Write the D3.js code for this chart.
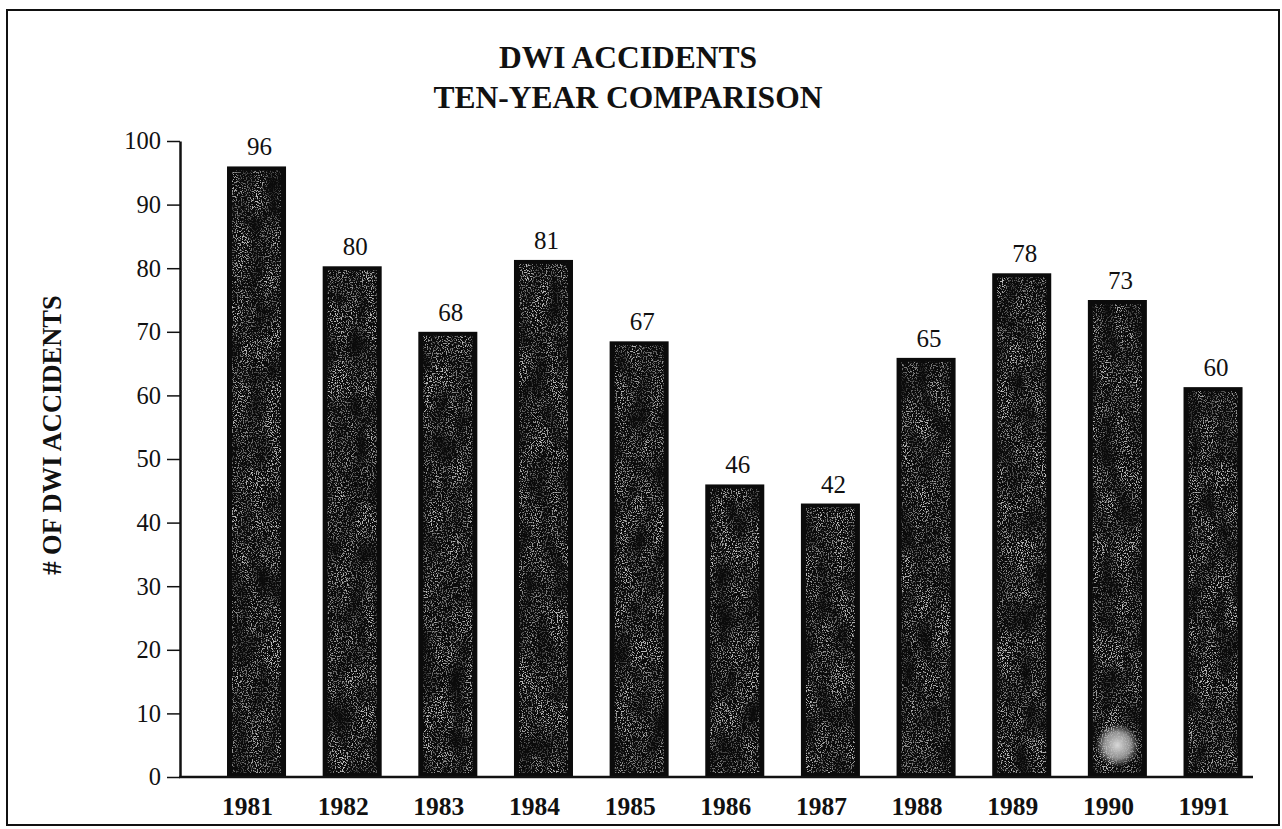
<!DOCTYPE html>
<html>
<head>
<meta charset="utf-8">
<script src="https://cdn.jsdelivr.net/npm/d3@7/dist/d3.min.js"></script>
<style>
  html, body { margin: 0; padding: 0; background: #fff; }
  svg { display: block; }
</style>
</head>
<body>
<svg id="chart" width="1282" height="829"></svg>
<script>
// ---- data ----
const years = ["1981", "1982", "1983", "1984", "1985", "1986", "1987", "1988", "1989", "1990", "1991"];
const valueLabels = [96, 80, 68, 81, 67, 46, 42, 65, 78, 73, 60];
const barValues = [96, 80.3, 70, 81.3, 68.5, 46, 43, 65.9, 79.2, 75, 61.3];
const yTicks = [0, 10, 20, 30, 40, 50, 60, 70, 80, 90, 100];
const titleLines = ["DWI ACCIDENTS", "TEN-YEAR COMPARISON"];
const yAxisTitle = "# OF DWI ACCIDENTS";

const serif = "'Liberation Serif', 'Times New Roman', Times, serif";
const svg = d3.select("#chart");

// texture filter for bars
const defs = svg.append("defs");
const f = defs.append("filter").attr("id", "grain")
  .attr("x", 0).attr("y", 0).attr("width", "100%").attr("height", "100%")
  .attr("color-interpolation-filters", "sRGB");
f.append("feTurbulence").attr("type", "fractalNoise").attr("baseFrequency", 0.8)
  .attr("numOctaves", 2).attr("seed", 3).attr("result", "fine");
f.append("feColorMatrix").attr("in", "fine").attr("type", "matrix")
  .attr("values", "0 0 0 0 0.72  0 0 0 0 0.72  0 0 0 0 0.72  9 0 0 0 -4.7")
  .attr("result", "dots");
f.append("feTurbulence").attr("type", "fractalNoise").attr("baseFrequency", "0.06 0.03")
  .attr("numOctaves", 2).attr("seed", 9).attr("result", "coarse");
f.append("feColorMatrix").attr("in", "coarse").attr("type", "matrix")
  .attr("values", "0 0 0 0 0  0 0 0 0 0  0 0 0 0 0  1.8 0 0 0 -0.25")
  .attr("result", "mask");
f.append("feComposite").attr("in", "dots").attr("in2", "mask").attr("operator", "in").attr("result", "cd");
f.append("feComposite").attr("in", "cd").attr("in2", "SourceGraphic").attr("operator", "in");

const blob = defs.append("radialGradient").attr("id", "blob");
blob.append("stop").attr("offset", "0%").attr("stop-color", "#d8d8d8").attr("stop-opacity", 1);
blob.append("stop").attr("offset", "60%").attr("stop-color", "#b0b0b0").attr("stop-opacity", 0.8);
blob.append("stop").attr("offset", "100%").attr("stop-color", "#888").attr("stop-opacity", 0);

// border
svg.append("rect").attr("x", 7).attr("y", 10).attr("width", 1272).attr("height", 815)
  .attr("fill", "none").attr("stroke", "#111").attr("stroke-width", 2);

// scales
const axisLeftX = 180, axisRightX = 1253;
const y = d3.scaleLinear().domain([0, 100]).range([777, 141]);
const x = d3.scaleBand().domain(years).range([208.7, 1260.85])
  .paddingInner(0.383).paddingOuter(0.1915);

// title
svg.append("g").selectAll("text").data(titleLines).join("text")
  .attr("x", 628).attr("y", (d, i) => 68 + i * 40)
  .attr("text-anchor", "middle")
  .attr("font-family", serif).attr("font-weight", "bold").attr("font-size", 31.5)
  .attr("fill", "#111").text(d => d);

// y axis title
svg.append("text")
  .attr("transform", "translate(61,435) rotate(-90)")
  .attr("text-anchor", "middle")
  .attr("font-family", serif).attr("font-weight", "bold").attr("font-size", 26.5)
  .attr("fill", "#111").text(yAxisTitle);

// bars
const bars = svg.append("g");
bars.selectAll("rect.bar").data(years).join("rect").attr("class", "bar")
  .attr("x", d => x(d)).attr("width", x.bandwidth())
  .attr("y", (d, i) => y(barValues[i]))
  .attr("height", (d, i) => y(0) - y(barValues[i]))
  .attr("fill", "#0b0b0b");
bars.selectAll("rect.tex").data(years).join("rect").attr("class", "tex")
  .attr("x", d => x(d) + 5).attr("width", x.bandwidth() - 10)
  .attr("y", (d, i) => y(barValues[i]) + 4)
  .attr("height", (d, i) => y(0) - y(barValues[i]) - 8)
  .attr("fill", "#fff").attr("filter", "url(#grain)");

// scanner blob on 1990 bar
svg.append("circle")
  .attr("cx", x("1990") + x.bandwidth() / 2).attr("cy", y(5))
  .attr("r", 22).attr("fill", "url(#blob)");

// value labels
svg.append("g").selectAll("text").data(years).join("text")
  .attr("x", d => x(d) + x.bandwidth() / 2 + 3)
  .attr("y", (d, i) => y(barValues[i]) - 11)
  .attr("text-anchor", "middle")
  .attr("font-family", serif).attr("font-size", 25).attr("fill", "#111")
  .text((d, i) => valueLabels[i]);

// y axis
const yAxis = svg.append("g").attr("transform", `translate(${axisLeftX},0)`)
  .call(d3.axisLeft(y).tickValues(yTicks).tickSize(13).tickSizeOuter(0).tickPadding(6));
yAxis.attr("font-family", serif).attr("font-size", 24.5);
yAxis.select(".domain").attr("stroke", "#111").attr("stroke-width", 2.5);
yAxis.selectAll(".tick line").attr("stroke", "#111").attr("stroke-width", 1.5);
yAxis.selectAll(".tick text").attr("fill", "#111");

// x axis baseline
svg.append("line")
  .attr("x1", axisLeftX - 1).attr("x2", axisRightX)
  .attr("y1", y(0)).attr("y2", y(0))
  .attr("stroke", "#111").attr("stroke-width", 2.5);

// year labels
svg.append("g").selectAll("text").data(years).join("text")
  .attr("x", d => x(d) + x.bandwidth() / 2 - 9)
  .attr("y", 815)
  .attr("text-anchor", "middle")
  .attr("font-family", serif).attr("font-weight", "bold").attr("font-size", 25.5)
  .attr("fill", "#111").text(d => d);
</script>
</body>
</html>
